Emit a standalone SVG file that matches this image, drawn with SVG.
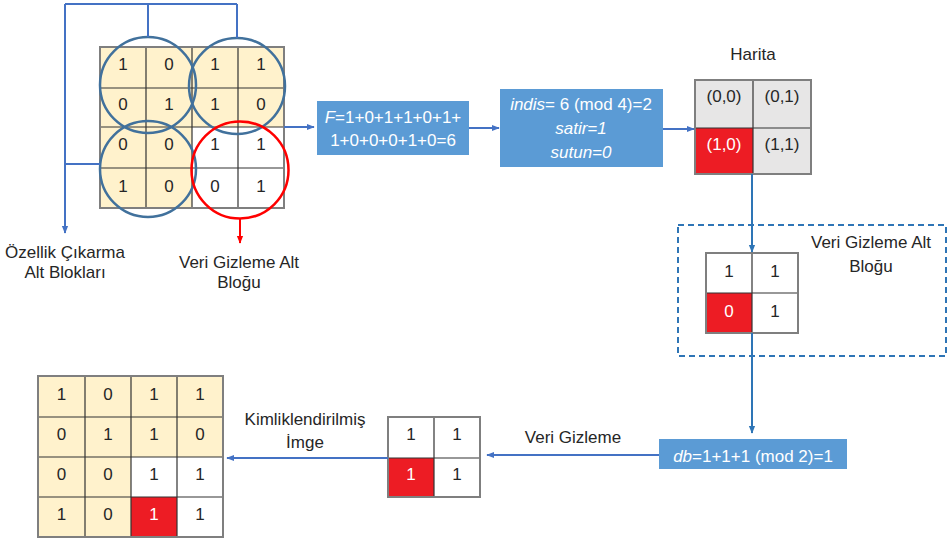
<svg xmlns="http://www.w3.org/2000/svg" width="948" height="540" viewBox="0 0 948 540">
<defs>
<marker id="ab" viewBox="0 0 10 10" refX="9" refY="5" markerWidth="4" markerHeight="4" orient="auto" markerUnits="strokeWidth"><path d="M0,1 L10,5 L0,9 Z" fill="#4472C4"/></marker>
<marker id="ab2" viewBox="0 0 10 10" refX="9" refY="5" markerWidth="4" markerHeight="4" orient="auto" markerUnits="strokeWidth"><path d="M0,1 L10,5 L0,9 Z" fill="#2E75B6"/></marker>
<marker id="ar" viewBox="0 0 10 10" refX="9" refY="5" markerWidth="4" markerHeight="4" orient="auto" markerUnits="strokeWidth"><path d="M0,1 L10,5 L0,9 Z" fill="#FF0000"/></marker>
</defs>
<style>
text{font-family:"Liberation Sans",Arial,sans-serif;font-size:17px;fill:#262626;text-anchor:middle}
.w{fill:#fff}
.bx{fill:#5B9BD5}
.by{fill:#FFF2CC}
.wh{fill:#fff}
.gr{fill:#E7E6E6}
.rd{fill:#ED1C24}
.ol{fill:none;stroke:#7F7F7F;stroke-width:2}
.il{stroke:#333;stroke-width:1.2;fill:none}
.c{fill:none;stroke:#41719C;stroke-width:2.5}
.cr{fill:none;stroke:#FF0000;stroke-width:2.5}
.ln{fill:none;stroke:#4472C4;stroke-width:2}
.ln2{fill:none;stroke:#2E75B6;stroke-width:2}
.lr{fill:none;stroke:#FF0000;stroke-width:2}
i{font-style:italic}
.it{font-style:italic}
</style>

<g id="input-image">
<rect class="by" x="100" y="47" width="184" height="80"/>
<rect class="by" x="100" y="127" width="92" height="81"/>
<rect class="wh" x="192" y="127" width="92" height="81"/>
<path class="il" d="M146,47V208M192,47V208M238,47V208M100,88H284M100,127H284M100,168H284"/>
<rect class="ol" x="100" y="47" width="184" height="161"/>
<text x="123" y="70">1</text><text x="169" y="70">0</text><text x="215" y="70">1</text><text x="261" y="70">1</text>
<text x="123" y="110">0</text><text x="169" y="110">1</text><text x="215" y="110">1</text><text x="261" y="110">0</text>
<text x="123" y="150">0</text><text x="169" y="150">0</text><text x="215" y="150">1</text><text x="261" y="150">1</text>
<text x="123" y="192">1</text><text x="169" y="192">0</text><text x="215" y="192">0</text><text x="261" y="192">1</text>
<circle class="c" cx="148" cy="85" r="48"/>
<circle class="c" cx="237" cy="86" r="48"/>
<circle class="c" cx="148" cy="169" r="48"/>
<circle class="cr" cx="240" cy="170" r="48.5"/>
</g>

<g id="label-feature">
<text x="65" y="258">Özellik Çıkarma</text>
<text x="65" y="278">Alt Blokları</text>
</g>
<g id="label-hide-top">
<text x="239" y="268">Veri Gizleme Alt</text>
<text x="239" y="288">Bloğu</text>
</g>

<g id="box-f">
<rect class="bx" x="317" y="101" width="152" height="54"/>
<text class="w" x="393" y="123"><tspan class="it">F</tspan>=1+0+1+1+0+1+</text>
<text class="w" x="393" y="146">1+0+0+0+1+0=6</text>
</g>

<g id="box-indis">
<rect class="bx" x="500" y="89" width="163" height="78"/>
<text class="w" x="581" y="110"><tspan class="it">indis</tspan>= 6 (mod 4)=2</text>
<text class="w it" x="581" y="134">satir=1</text>
<text class="w it" x="581" y="158">sutun=0</text>
</g>

<g id="harita">
<text x="753" y="60">Harita</text>
<rect class="gr" x="695" y="80" width="116" height="94"/>
<rect class="rd" x="695" y="128" width="58" height="46"/>
<path class="il" d="M753,80V174M695,128H811"/>
<rect class="ol" x="695" y="80" width="116" height="94"/>
<text x="724" y="102">(0,0)</text><text x="782" y="102">(0,1)</text>
<text class="w" x="724" y="150">(1,0)</text><text x="782" y="150">(1,1)</text>
</g>

<g id="hide-block">
<rect x="678" y="225" width="268" height="131" fill="none" stroke="#2E75B6" stroke-width="2" stroke-dasharray="6,4"/>
<text x="871" y="248">Veri Gizleme Alt</text>
<text x="871" y="272">Bloğu</text>
<rect class="wh" x="706" y="253" width="92" height="80"/>
<rect class="rd" x="706" y="293" width="46" height="40"/>
<path class="il" d="M752,253V333M706,293H798"/>
<rect class="ol" x="706" y="253" width="92" height="80"/>
<text x="729" y="277">1</text><text x="775" y="277">1</text>
<text class="w" x="729" y="317">0</text><text x="775" y="317">1</text>
</g>

<g id="box-db">
<rect class="bx" x="659" y="439" width="188" height="30"/>
<text class="w" x="753" y="462"><tspan class="it">db</tspan>=1+1+1 (mod 2)=1</text>
</g>

<g id="result-block">
<rect class="wh" x="388" y="417" width="92" height="80"/>
<rect class="rd" x="388" y="458" width="46" height="39"/>
<path class="il" d="M434,417V497M388,458H480"/>
<rect class="ol" x="388" y="417" width="92" height="80"/>
<text x="411" y="440">1</text><text x="457" y="440">1</text>
<text class="w" x="411" y="480">1</text><text x="457" y="480">1</text>
</g>

<g id="label-veri-gizleme">
<text x="573" y="443">Veri Gizleme</text>
</g>
<g id="label-kimlik">
<text x="305" y="425">Kimliklendirilmiş</text>
<text x="305" y="448">İmge</text>
</g>

<g id="output-image">
<rect class="by" x="38" y="376" width="185" height="81"/>
<rect class="by" x="38" y="457" width="93" height="80"/>
<rect class="wh" x="131" y="457" width="92" height="80"/>
<rect class="rd" x="131" y="497" width="46" height="40"/>
<path class="il" d="M85,376V537M131,376V537M177,376V537M38,417H223M38,457H223M38,497H223"/>
<rect class="ol" x="38" y="376" width="185" height="161"/>
<text x="61.5" y="400">1</text><text x="108" y="400">0</text><text x="154" y="400">1</text><text x="200" y="400">1</text>
<text x="61.5" y="440">0</text><text x="108" y="440">1</text><text x="154" y="440">1</text><text x="200" y="440">0</text>
<text x="61.5" y="480">0</text><text x="108" y="480">0</text><text x="154" y="480">1</text><text x="200" y="480">1</text>
<text x="61.5" y="520">1</text><text x="108" y="520">0</text><text class="w" x="154" y="520">1</text><text x="200" y="520">1</text>
</g>

<g id="connectors">
<path class="ln" d="M148,37V4M237,38V4M65,4H237M65,4V233" marker-end="url(#ab)"/>
<path class="ln" d="M100,164H65"/>
<path class="lr" d="M240,219V243" marker-end="url(#ar)"/>
<path class="ln" d="M284,127H314" marker-end="url(#ab)"/>
<path class="ln" d="M469,128H499" marker-end="url(#ab)"/>
<path class="ln" d="M663,129H694" marker-end="url(#ab)"/>
<path class="ln2" d="M752,174V252" marker-end="url(#ab2)"/>
<path class="ln2" d="M752,333V433" marker-end="url(#ab2)"/>
<path class="ln" d="M659,455H487" marker-end="url(#ab)"/>
<path class="ln" d="M388,458H227" marker-end="url(#ab)"/>
</g>
</svg>
